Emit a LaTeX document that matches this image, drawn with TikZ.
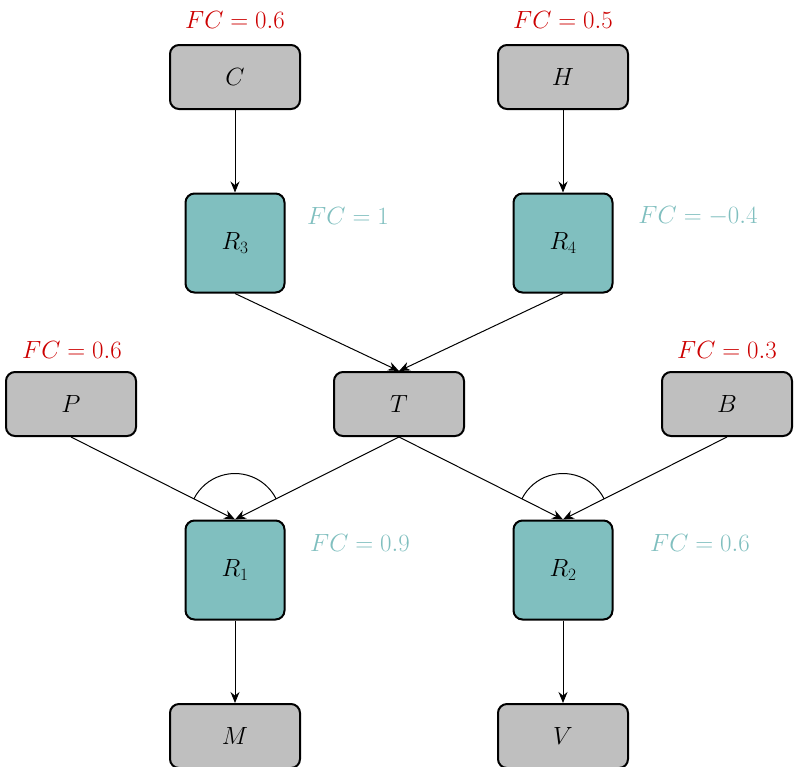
\documentclass[tikz,border=0pt]{standalone}
\usetikzlibrary{arrows.meta}
\begin{document}
\begin{tikzpicture}[x=1pt,y=-1pt,
  every node/.style={font=\fontsize{26}{30}\selectfont},
  gbox/.style={draw,line width=2pt,rounded corners=9pt,fill=gray!50,minimum width=130pt,minimum height=64pt,inner sep=0pt},
  tbox/.style={draw,line width=2pt,rounded corners=9pt,fill=teal!50,minimum width=99pt,minimum height=99pt,inner sep=0pt},
  redl/.style={text=red!80!black},
  tl/.style={text=teal!50},
  arr/.style={-{Stealth[length=11pt,width=9pt]},line width=1pt}]
\useasboundingbox (0,0) rectangle (799,766);
\node[gbox] (C) at (235,77) {$C$};
\node[gbox] (H) at (563,77) {$H$};
\node[tbox] (R3) at (235,243) {$R_3$};
\node[tbox] (R4) at (563,243) {$R_4$};
\node[gbox] (P) at (71,404) {$P$};
\node[gbox] (T) at (399,404) {$T$};
\node[gbox] (B) at (727,404) {$B$};
\node[tbox] (R1) at (235,570) {$R_1$};
\node[tbox] (R2) at (563,570) {$R_2$};
\node[gbox] (M) at (235,736) {$M$};
\node[gbox] (V) at (563,736) {$V$};
\node[redl] (lc) at (235,20) {$FC=0.6$};
\node[redl] (lh) at (563,20) {$FC=0.5$};
\node[redl] (lp) at (72,350) {$FC=0.6$};
\node[redl] (lb) at (727,350) {$FC=0.3$};
\node[tl] (l3) at (348,216) {$FC=1$};
\node[tl] (l4) at (698,216) {$FC=-0.4$};
\node[tl] (l1) at (360,543) {$FC=0.9$};
\node[tl] (l2) at (700,543) {$FC=0.6$};
\draw[arr] (C.south) -- (R3.north);
\draw[arr] (H.south) -- (R4.north);
\draw[arr] (R3.south) -- (T.north);
\draw[arr] (R4.south) -- (T.north);
\draw[arr] (P.south) -- (R1.north);
\draw[arr] (T.south) -- (R1.north);
\draw[arr] (T.south) -- (R2.north);
\draw[arr] (B.south) -- (R2.north);
\draw[arr] (R1.south) -- (M.north);
\draw[arr] (R2.south) -- (V.north);
\draw[line width=1pt] (R1.north) ++(-153:46) arc[start angle=-153,end angle=-27,radius=46];
\draw[line width=1pt] (R2.north) ++(-153:46) arc[start angle=-153,end angle=-27,radius=46];
\end{tikzpicture}
\end{document}
